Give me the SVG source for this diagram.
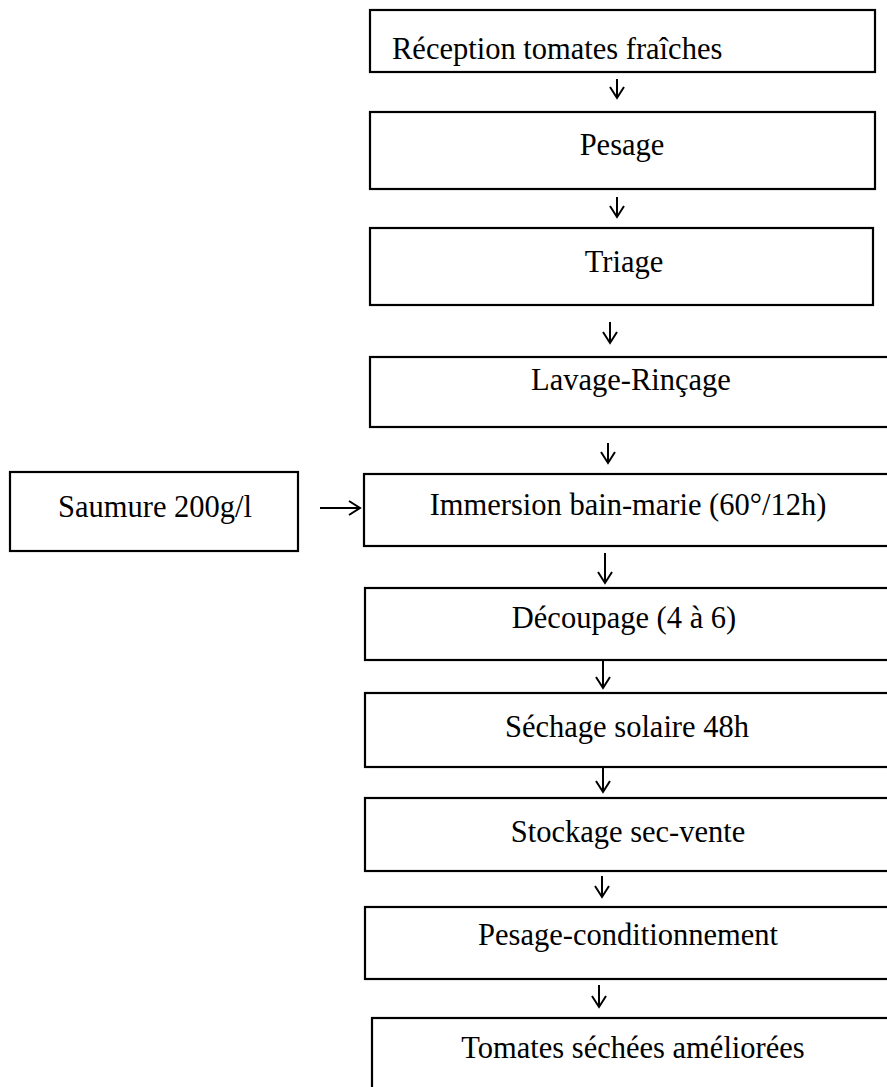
<svg xmlns="http://www.w3.org/2000/svg" width="887" height="1087" viewBox="0 0 887 1087">
<style>
.box{fill:#fff;stroke:#000;stroke-width:2.2}
.t{font-family:"Liberation Serif","Times New Roman",serif;font-size:30.5px;fill:#000}
.m{text-anchor:middle}
.c{fill:none;stroke:#000;stroke-width:2}
</style>
<rect width="887" height="1087" fill="#fff"/>
<g id="n1"><rect class="box" x="370" y="10" width="505" height="62"/><text class="t" x="392" y="59">Réception tomates fraîches</text></g>
<g id="n2"><rect class="box" x="370" y="112" width="505" height="77"/><text class="t m" x="622" y="155">Pesage</text></g>
<g id="n3"><rect class="box" x="370" y="228" width="503" height="77"/><text class="t m" x="624" y="272">Triage</text></g>
<g id="n4"><rect class="box" x="370" y="357" width="530" height="70"/><text class="t m" x="631" y="390">Lavage-Rinçage</text></g>
<g id="n5"><rect class="box" x="364" y="474" width="536" height="72"/><text class="t m" x="628" y="515">Immersion bain-marie (60°/12h)</text></g>
<g id="n0"><rect class="box" x="10" y="472" width="288" height="79"/><text class="t m" x="155" y="517">Saumure 200g/l</text></g>
<g id="n6"><rect class="box" x="365" y="588" width="535" height="72"/><text class="t m" x="624" y="628">Découpage (4 à 6)</text></g>
<g id="n7"><rect class="box" x="365" y="693" width="535" height="74"/><text class="t m" x="627" y="737">Séchage solaire 48h</text></g>
<g id="n8"><rect class="box" x="365" y="798" width="535" height="73"/><text class="t m" x="628" y="842">Stockage sec-vente</text></g>
<g id="n9"><rect class="box" x="365" y="907" width="535" height="72"/><text class="t m" x="628" y="945">Pesage-conditionnement</text></g>
<g id="n10"><rect class="box" x="372" y="1018" width="528" height="80"/><text class="t m" x="633" y="1058">Tomates séchées améliorées</text></g>
<g id="connectors" class="c">
<path d="M617 79V98M610 87L617 98L624 87"/>
<path d="M617 197V217M610 206L617 217L624 206"/>
<path d="M610 322V343M603 332L610 343L617 332"/>
<path d="M608 443V463M601 452L608 463L615 452"/>
<path d="M605 553V583M598 572L605 583L612 572"/>
<path d="M603 661V688M596 677L603 688L610 677"/>
<path d="M603 768V792M596 781L603 792L610 781"/>
<path d="M602 876V897M595 886L602 897L609 886"/>
<path d="M599 985V1007M592 996L599 1007L606 996"/>
<path d="M320 508H360M349 501L360 508L349 515"/>
</g>
</svg>
